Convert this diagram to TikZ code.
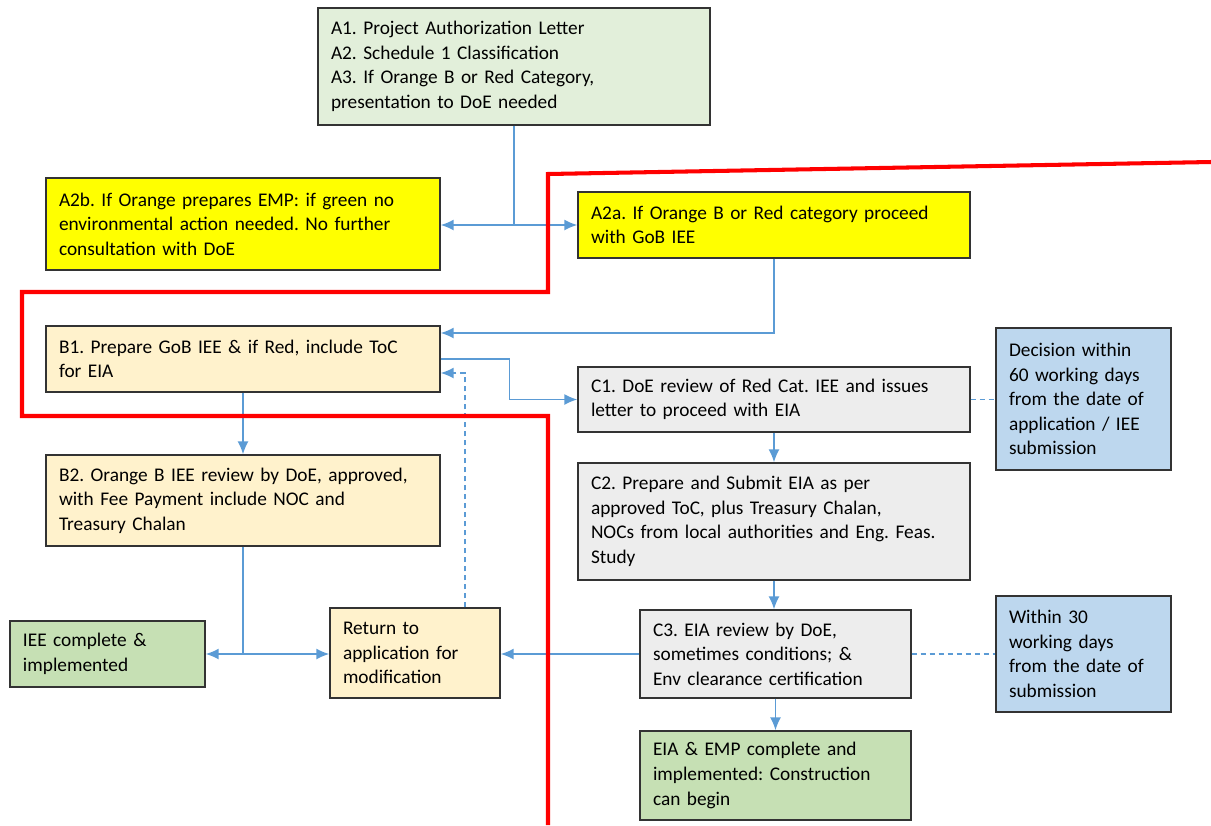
\documentclass[tikz,border=0pt]{standalone}
\usepackage{fontspec}
\setmainfont{Carlito}
\usetikzlibrary{arrows.meta}
\frenchspacing

\definecolor{cpale}{HTML}{E2EFDA}
\definecolor{cyel}{HTML}{FFFF00}
\definecolor{corange}{HTML}{FFF2CC}
\definecolor{cgrey}{HTML}{EDEDED}
\definecolor{cnote}{HTML}{BDD7EE}
\definecolor{cgreen}{HTML}{C6E0B4}
\definecolor{cblue}{HTML}{5B9BD5}

\tikzset{
	box/.style={draw=black!80, line width=0.8pt, inner xsep=0.26cm, inner ysep=0.1cm, align=left, font=\fontsize{11}{14}\selectfont},
	link/.style={draw=cblue, line width=0.85pt},
	arr/.style={link, -{Latex[length=2.6mm,width=2.2mm]}},
	dashlink/.style={link, dash pattern=on 0.1cm off 0.08cm},
	redline/.style={draw=red, line width=2.3pt}
}

\begin{document}
\begin{tikzpicture}
	\useasboundingbox (0,0) rectangle (24.22,-16.5);

	\node[box, fill=cpale, text width=7.32cm, minimum height=2.34cm] (a1) at (10.28,-1.33) {A1. Project Authorization Letter\\A2. Schedule 1 Classification\\A3. If Orange B or Red Category,\\presentation to DoE needed};
	\node[box, fill=cyel, text width=7.36cm, minimum height=1.84cm] (a2b) at (4.86,-4.48) {A2b. If Orange prepares EMP: if green no\\environmental action needed. No further\\consultation with DoE};
	\node[box, fill=cyel, text width=7.32cm, minimum height=1.32cm] (a2a) at (15.48,-4.5) {A2a. If Orange B or Red category proceed\\with GoB IEE};
	\node[box, fill=corange, text width=7.36cm, minimum height=1.32cm] (b1) at (4.86,-7.18) {B1. Prepare GoB IEE \& if Red, include ToC\\for EIA};
	\node[box, fill=cgrey, text width=7.32cm, minimum height=1.3cm] (c1) at (15.48,-7.99) {C1. DoE review of Red Cat. IEE and issues\\letter to proceed with EIA};
	\node[box, fill=cnote, text width=2.98cm, minimum height=2.84cm] (dec) at (21.67,-7.98) {Decision within\\60 working days\\from the date of\\application / IEE\\submission};
	\node[box, fill=corange, text width=7.36cm, minimum height=1.82cm] (b2) at (4.86,-10.01) {B2. Orange B IEE review by DoE, approved,\\with Fee Payment include NOC and\\Treasury Chalan};
	\node[box, fill=cgrey, text width=7.32cm, minimum height=2.34cm] (c2) at (15.48,-10.43) {C2. Prepare and Submit EIA as per\\approved ToC, plus Treasury Chalan,\\NOCs from local authorities and Eng. Feas.\\Study};
	\node[box, fill=cgreen, text width=3.38cm, minimum height=1.32cm] (iee) at (2.15,-13.08) {IEE complete \&\\implemented};
	\node[box, fill=corange, text width=2.88cm, minimum height=1.8cm] (ret) at (8.3,-13.06) {Return to\\application for\\modification};
	\node[box, fill=cgrey, text width=4.9cm, minimum height=1.76cm] (c3) at (15.51,-13.08) {C3. EIA review by DoE,\\sometimes conditions; \&\\Env clearance certification};
	\node[box, fill=cnote, text width=2.98cm, minimum height=2.32cm] (w30) at (21.67,-13.08) {Within 30\\working days\\from the date of\\submission};
	\node[box, fill=cgreen, text width=4.9cm, minimum height=1.78cm] (eia) at (15.51,-15.51) {EIA \& EMP complete and\\implemented: Construction\\can begin};

	\coordinate (j1) at (a1.south |- a2a.west);
	\coordinate (j2) at (b2.south |- iee.east);

	\draw[link] (a1.south) -- (j1);
	\draw[arr] (j1) -- (j1 -| a2b.east);
	\draw[arr] (j1) -- (a2a.west);
	\draw[arr] (a2a.south) |- ([yshift=0.52cm]b1.east);
	\draw[arr] (b1.east) -- ++(1.38,0) |- (c1.west);
	\draw[arr, dashlink] ([xshift=1cm]ret.north) |- ([yshift=-0.28cm]b1.east);
	\draw[arr] (b1.south) -- (b2.north);
	\draw[link] (b2.south) -- (j2);
	\draw[arr] (j2) -- (iee.east);
	\draw[arr] (j2) -- (j2 -| ret.west);
	\draw[arr] (c1.south) -- (c2.north);
	\draw[arr] (c2.south) -- (c2.south |- c3.north);
	\draw[arr] (c3.south) -- (c3.south |- eia.north);
	\draw[arr] (c3.west) -- (c3.west -| ret.east);
	\draw[dashlink] (c1.east) -- (c1.east -| dec.west);
	\draw[dashlink] (c3.east) -- (c3.east -| w30.west);

	\draw[redline] (24.22,-3.24) -- (10.96,-3.48) -- (10.96,-5.84) -- (0.44,-5.84) -- (0.44,-8.32) -- (10.96,-8.32) -- (10.96,-16.5);
\end{tikzpicture}
\end{document}
